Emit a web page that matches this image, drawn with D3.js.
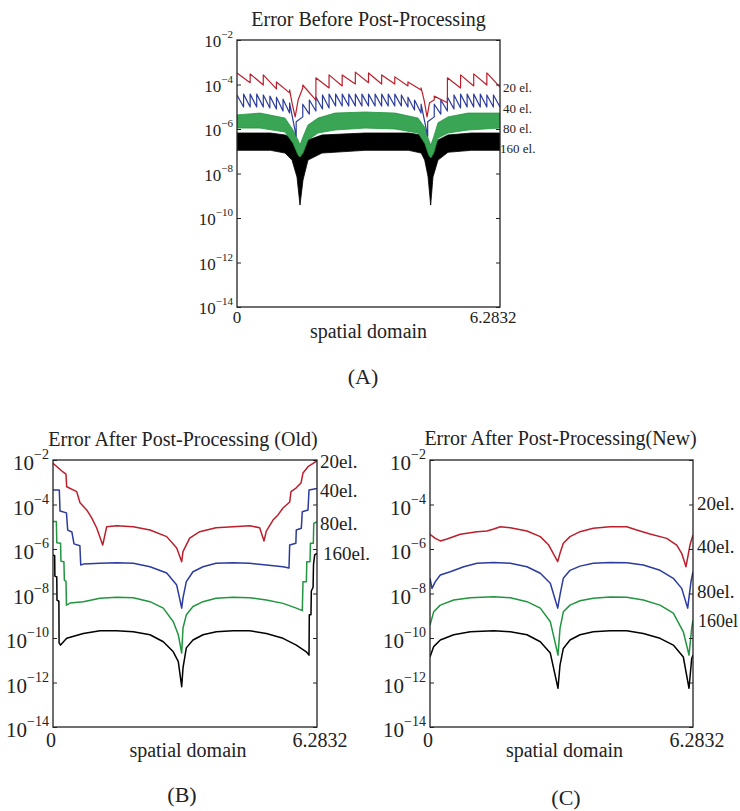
<!DOCTYPE html>
<html>
<head>
<meta charset="utf-8">
<script src="https://cdnjs.cloudflare.com/ajax/libs/d3/7.8.5/d3.min.js"></script>
<style>
  body { margin: 0; background: #fff; }
  svg { display: block; }
  text { font-family: "Liberation Serif", "Times New Roman", serif; fill: #222; }
</style>
</head>
<body>
<svg id="chart" width="740" height="811" font-family="Liberation Serif, serif"></svg>
<script>
const TWO_PI = 6.2832;
const SERIF = "Liberation Serif, Times New Roman, serif";
const decadeTicks = [1e-2, 1e-4, 1e-6, 1e-8, 1e-10, 1e-12, 1e-14];
const decadeExps = ["\u22122", "\u22124", "\u22126", "\u22128", "\u221210", "\u221212", "\u221214"];
const xTickValues = [0, TWO_PI];
const xTickLabels = ["0", "6.2832"];
const seriesNames = ["20", "40", "80", "160"];
const colors = ["#bb1f2c", "#2b3b9e", "#21953f", "#000000"];
const greenBandFill = "#3aa655";

// ---- (A) before post-processing ----
// 20 el. : [x, error] read off the sawtooth (jumps at element edges)
const beforeRed = [
  [0, 3.3e-4], [0.314, 1.2e-4], [0.314, 3.0e-4], [0.628, 9.5e-5], [0.628, 2.7e-4],
  [0.942, 6.3e-5], [0.942, 1.3e-4], [1.257, 4.2e-5], [1.257, 5.7e-5], [1.32, 1.3e-5],
  [1.39, 3.5e-6], [1.46, 2.0e-5], [1.571, 7.0e-5], [1.571, 9.5e-5], [1.885, 2.0e-5],
  [1.885, 2.0e-4], [2.199, 7.0e-5], [2.199, 2.7e-4], [2.513, 8.6e-5], [2.513, 2.7e-4],
  [2.827, 1.05e-4], [2.827, 3.6e-4], [3.142, 1.2e-4], [3.142, 3.3e-4], [3.456, 1.05e-4],
  [3.456, 2.7e-4], [3.770, 1.05e-4], [3.770, 2.2e-4], [4.084, 8.6e-5], [4.084, 1.3e-4],
  [4.398, 5.7e-5], [4.398, 7.0e-5], [4.47, 2.0e-5], [4.54, 3.5e-6], [4.60, 1.5e-5],
  [4.712, 2.0e-5], [4.712, 3.0e-5], [5.027, 1.5e-5], [5.027, 2.0e-4], [5.341, 7.0e-5],
  [5.341, 2.7e-4], [5.655, 8.6e-5], [5.655, 3.0e-4], [5.969, 9.5e-5], [5.969, 3.3e-4],
  [6.2832, 7.7e-5]
];
// 40 el. : value at start (peak) and end (trough) of every element
const blue40Peak = [
  3.4e-5, 3.7e-5, 3.7e-5, 3.7e-5, 3.4e-5, 3.0e-5, 2.7e-5, 2.2e-5, 1.5e-5, 2.1e-6,
  1.3e-5, 2.0e-5, 2.7e-5, 3.4e-5, 3.7e-5, 3.7e-5, 3.7e-5, 3.7e-5, 3.7e-5, 3.7e-5,
  3.7e-5, 3.7e-5, 3.7e-5, 3.7e-5, 3.7e-5, 3.4e-5, 2.7e-5, 2.0e-5, 1.3e-5, 2.1e-6,
  1.3e-5, 2.0e-5, 2.7e-5, 3.4e-5, 3.7e-5, 3.7e-5, 3.7e-5, 3.7e-5, 3.4e-5, 3.4e-5
];
const blue40Trough = [
  9.7e-6, 9.7e-6, 9.7e-6, 9.7e-6, 8.8e-6, 7.9e-6, 6.4e-6, 5.2e-6, 4.8e-7, 3.5e-6,
  4.7e-6, 6.4e-6, 7.9e-6, 8.8e-6, 1.08e-5, 1.08e-5, 1.08e-5, 1.08e-5, 1.08e-5, 1.08e-5,
  1.08e-5, 1.08e-5, 1.08e-5, 1.08e-5, 1.08e-5, 9.7e-6, 7.1e-6, 5.2e-6, 4.8e-7, 3.5e-6,
  4.7e-6, 6.4e-6, 7.9e-6, 8.8e-6, 9.7e-6, 9.7e-6, 9.7e-6, 9.7e-6, 9.7e-6, 9.7e-6
];
// 80 el. and 160 el. oscillate so fast they read as bands: upper / lower envelope
const green80X  = [0, 0.55, 1.147, 1.338, 1.457, 1.505, 1.577, 1.696, 1.935, 2.341, 3.058, 3.775, 4.324, 4.484, 4.58, 4.63, 4.70, 4.802, 5.041, 5.519, 6.2832];
const green80Hi = [4.3e-6, 5.2e-6, 3.1e-6, 9.0e-7, 3.2e-7, 1.9e-7, 4.4e-7, 1.5e-6, 3.1e-6, 5.2e-6, 5.8e-6, 5.2e-6, 3.1e-6, 1.2e-6, 3.2e-7, 1.9e-7, 4.4e-7, 1.9e-6, 3.5e-6, 5.2e-6, 5.2e-6];
const green80Lo = [1.1e-6, 1.1e-6, 7.3e-7, 2.3e-7, 6.8e-8, 5.5e-8, 8.3e-8, 3.2e-7, 6.6e-7, 9.0e-7, 1.1e-6, 1.0e-6, 6.6e-7, 2.3e-7, 6.8e-8, 5.0e-8, 8.3e-8, 3.9e-7, 6.6e-7, 9.0e-7, 1.1e-6];
const black160X  = [0, 0.8, 1.147, 1.314, 1.433, 1.505, 1.577, 1.696, 2.03, 3.06, 4.1, 4.40, 4.484, 4.563, 4.627, 4.682, 4.802, 5.041, 5.6, 6.2832];
const black160Hi = [6.6e-7, 6.6e-7, 5.4e-7, 3.9e-7, 1.6e-7, 5.5e-8, 1.1e-7, 3.2e-7, 5.4e-7, 6.6e-7, 6.6e-7, 5.4e-7, 3.2e-7, 1.6e-7, 5.5e-8, 1.4e-7, 3.2e-7, 5.4e-7, 6.6e-7, 6.6e-7];
const black160Lo = [1.1e-7, 1.1e-7, 8.3e-8, 4.0e-8, 7.0e-9, 3.8e-10, 5.1e-9, 4.0e-8, 8.3e-8, 1.1e-7, 1.1e-7, 8.3e-8, 4.0e-8, 7.5e-9, 3.8e-10, 7.0e-9, 4.0e-8, 9.0e-8, 1.1e-7, 1.1e-7];

// ---- (B) after post-processing, old ----
const oldRed = [
  [0, 7.1e-3], [0.238, 2.9e-3], [0.309, 2.3e-3], [0.326, 6.3e-4], [0.564, 3.8e-4], [0.643, 1.2e-4],
  [0.802, 5.7e-5], [0.921, 2.5e-5], [1.040, 8.8e-6], [1.183, 1.5e-6], [1.278, 1.0e-5], [1.516, 1.1e-5],
  [1.911, 1.0e-5], [2.309, 7.1e-6], [2.706, 3.6e-6], [2.944, 1.1e-6], [3.063, 2.7e-7], [3.094, 7.6e-7],
  [3.253, 3.1e-6], [3.491, 6.0e-6], [3.879, 9.1e-6], [4.284, 1.0e-5], [4.681, 1.1e-5], [4.919, 9.1e-6],
  [5.022, 2.3e-6], [5.077, 6.4e-6], [5.236, 2.0e-5], [5.355, 3.4e-5], [5.474, 7.0e-5], [5.634, 1.3e-4],
  [5.664, 3.8e-4], [5.783, 5.5e-4], [5.902, 9.2e-4], [5.950, 2.6e-3], [6.069, 5.0e-3], [6.228, 7.9e-3],
  [6.2832, 9.0e-3]
];
const oldBlue = [
  [0, 4.5e-4], [0.15, 4.5e-4], [0.167, 5.1e-5], [0.32, 4.2e-5], [0.35, 7.1e-6], [0.45, 5.8e-6],
  [0.5, 1.7e-6], [0.64, 1.4e-6], [0.66, 1.9e-7], [0.721, 2.1e-7], [1.119, 2.3e-7], [1.516, 2.4e-7],
  [1.911, 2.3e-7], [2.309, 1.6e-7], [2.706, 8.3e-8], [2.944, 2.4e-8], [3.063, 2.2e-9], [3.094, 6.3e-9],
  [3.173, 3.4e-8], [3.332, 9.5e-8], [3.570, 1.6e-7], [3.879, 2.3e-7], [4.284, 2.4e-7], [4.681, 2.3e-7],
  [5.077, 1.9e-7], [5.474, 1.6e-7], [5.617, 1.4e-7], [5.633, 1.5e-6], [5.78, 1.8e-6], [5.79, 7.1e-6],
  [5.91, 8.5e-6], [5.933, 4.7e-5], [6.069, 5.7e-5], [6.093, 4.5e-4], [6.2832, 5.3e-4]
];
const oldGreen = [
  [0, 1.7e-5], [0.08, 1.7e-5], [0.09, 1.9e-6], [0.18, 1.8e-6], [0.19, 2.8e-7], [0.26, 2.7e-7],
  [0.27, 4.0e-8], [0.31, 3.5e-8], [0.32, 3.0e-9], [0.405, 3.7e-9], [0.721, 4.3e-9], [1.119, 6.1e-9],
  [1.516, 6.7e-9], [1.911, 6.5e-9], [2.309, 4.3e-9], [2.625, 2.2e-9], [2.863, 5.4e-10], [2.982, 1.4e-10],
  [3.063, 2.1e-11], [3.094, 2.8e-10], [3.173, 1.1e-9], [3.332, 2.6e-9], [3.570, 4.3e-9], [3.879, 6.1e-9],
  [4.284, 6.7e-9], [4.681, 6.5e-9], [5.077, 5.1e-9], [5.474, 3.6e-9], [5.791, 2.2e-9], [5.933, 1.7e-9],
  [5.95, 3.4e-8], [6.03, 3.4e-8], [6.04, 2.7e-7], [6.117, 2.7e-7], [6.127, 1.8e-6], [6.196, 1.8e-6],
  [6.206, 1.4e-5], [6.2832, 1.7e-5]
];
const oldBlack = [
  [0, 5.4e-7], [0.04, 5.0e-7], [0.045, 6.0e-8], [0.09, 5.5e-8], [0.095, 5.0e-9], [0.14, 4.5e-9],
  [0.145, 6.0e-11], [0.18, 4.8e-11], [0.326, 9.7e-11], [0.721, 1.6e-10], [1.119, 2.1e-10], [1.516, 2.1e-10],
  [1.911, 1.9e-10], [2.309, 1.4e-10], [2.625, 6.8e-11], [2.863, 2.4e-11], [2.982, 8.6e-12], [3.063, 6.5e-13],
  [3.094, 4.5e-12], [3.173, 3.6e-11], [3.332, 8.1e-11], [3.570, 1.4e-10], [3.887, 1.9e-10], [4.284, 2.1e-10],
  [4.681, 2.1e-10], [5.077, 1.6e-10], [5.474, 9.7e-11], [5.791, 4.8e-11], [6.029, 2.4e-11], [6.093, 1.7e-11],
  [6.10, 1.1e-9], [6.14, 1.1e-9], [6.148, 1.3e-8], [6.19, 1.9e-8], [6.20, 2.0e-7], [6.228, 5.4e-7],
  [6.2832, 6.4e-7]
];

// ---- (C) after post-processing, new ----
const newRed = [
  [0, 4.6e-6], [0.127, 3.0e-6], [0.246, 2.3e-6], [0.406, 2.8e-6], [0.724, 4.6e-6], [1.123, 6.0e-6],
  [1.362, 6.4e-6], [1.522, 7.9e-6], [1.680, 1.0e-5], [1.918, 9.1e-6], [2.317, 6.4e-6], [2.635, 3.6e-6],
  [2.836, 1.5e-6], [3.051, 2.7e-7], [3.106, 6.4e-7], [3.185, 1.8e-6], [3.345, 3.6e-6], [3.584, 6.0e-6],
  [3.901, 8.5e-6], [4.300, 1.0e-5], [4.699, 1.0e-5], [4.938, 7.1e-6], [5.256, 4.7e-6], [5.655, 3.0e-6],
  [5.894, 1.5e-6], [6.013, 6.4e-7], [6.116, 1.6e-7], [6.211, 1.5e-6], [6.2832, 4.3e-6]
];
const newBlue = [
  [0, 4.8e-8], [0.048, 1.7e-8], [0.127, 3.4e-8], [0.246, 6.8e-8], [0.485, 9.5e-8], [0.805, 1.6e-7],
  [1.123, 2.3e-7], [1.522, 2.5e-7], [1.918, 2.3e-7], [2.317, 1.6e-7], [2.635, 8.1e-8], [2.874, 2.9e-8],
  [3.051, 2.2e-9], [3.106, 8.6e-9], [3.185, 4.8e-8], [3.345, 1.1e-7], [3.584, 1.7e-7], [3.901, 2.3e-7],
  [4.300, 2.5e-7], [4.699, 2.4e-7], [5.096, 1.9e-7], [5.495, 1.1e-7], [5.813, 4.8e-8], [6.013, 1.7e-8],
  [6.156, 2.2e-9], [6.235, 3.4e-8], [6.2832, 9.5e-8]
];
const newGreen = [
  [0, 3.8e-10], [0.088, 1.5e-9], [0.246, 3.0e-9], [0.566, 5.1e-9], [0.963, 6.5e-9], [1.522, 7.2e-9],
  [1.918, 6.5e-9], [2.317, 4.3e-9], [2.635, 2.2e-9], [2.874, 5.4e-10], [3.058, 1.7e-11], [3.106, 2.7e-10],
  [3.185, 1.5e-9], [3.345, 3.0e-9], [3.584, 4.7e-9], [3.901, 6.1e-9], [4.300, 7.0e-9], [4.699, 6.8e-9],
  [5.096, 5.1e-9], [5.495, 3.0e-9], [5.813, 1.3e-9], [6.052, 1.9e-10], [6.188, 1.7e-11], [6.252, 2.7e-10],
  [6.2832, 6.4e-10]
];
const newBlack = [
  [0, 1.4e-11], [0.088, 4.1e-11], [0.246, 8.1e-11], [0.566, 1.4e-10], [0.963, 1.9e-10], [1.522, 2.1e-10],
  [1.918, 1.9e-10], [2.317, 1.4e-10], [2.635, 6.8e-11], [2.874, 2.1e-11], [3.058, 5.5e-13], [3.106, 6.1e-12],
  [3.185, 3.4e-11], [3.345, 8.1e-11], [3.584, 1.4e-10], [3.901, 1.9e-10], [4.300, 2.1e-10], [4.699, 2.1e-10],
  [5.096, 1.6e-10], [5.495, 9.7e-11], [5.813, 4.8e-11], [6.052, 1.4e-11], [6.188, 5.5e-13], [6.252, 1.2e-11],
  [6.2832, 1.7e-11]
];

// where the "N el." tags sit, as log10 of the error
const beforeTagExp = [-4.34, -5.28, -6.18, -7.08];
const oldTagExp = [-2.37, -3.65, -5.15, -6.49];
const newTagExp = [-4.25, -6.19, -8.22, -9.49];

// build the 40-element sawtooth from its peaks and troughs
const w40 = TWO_PI / blue40Peak.length;
const beforeBlue = [];
blue40Peak.forEach((p, i) => {
  beforeBlue.push([i * w40, p]);
  beforeBlue.push([(i + 1) * w40, blue40Trough[i]]);
});
const greenBand = green80X.map((x, i) => [x, green80Hi[i], green80Lo[i]]);
const blackBand = black160X.map((x, i) => [x, black160Hi[i], black160Lo[i]]);

const svg = d3.select("#chart");

function label(g, size) {
  return g.append("text")
    .attr("font-family", SERIF)
    .attr("fill", "#222")
    .style("font-size", size + "px");
}

function drawPanel(p) {
  const x = d3.scaleLinear().domain([0, TWO_PI]).range([p.left, p.right]);
  const y = d3.scaleLog().domain([1e-14, 1e-2]).range([p.bottom, p.top]);
  const g = svg.append("g");

  svg.append("clipPath").attr("id", "clip-" + p.key)
    .append("rect")
    .attr("x", p.left).attr("y", p.top - 1)
    .attr("width", p.right - p.left).attr("height", p.bottom - p.top + 2);

  const plot = g.append("g").attr("clip-path", `url(#clip-${p.key})`);

  const area = d3.area().x(d => x(d[0])).y0(d => y(d[2])).y1(d => y(d[1]));
  const line = d3.line().x(d => x(d[0])).y(d => y(d[1]));

  (p.bands || []).forEach(b => {
    plot.append("path").datum(b.data)
      .attr("d", area)
      .attr("fill", b.fill)
      .attr("stroke", b.color)
      .attr("stroke-width", 0.8);
  });
  p.lines.forEach(l => {
    plot.append("path").datum(l.data)
      .attr("d", line)
      .attr("fill", "none")
      .attr("stroke", l.color)
      .attr("stroke-width", l.width)
      .attr("stroke-linejoin", "round");
  });

  // inward ticks on both sides
  const left = g.append("g").attr("transform", `translate(${p.left},0)`)
    .call(d3.axisLeft(y).tickValues(decadeTicks).tickSizeInner(-4).tickSizeOuter(0).tickFormat(""));
  const right = g.append("g").attr("transform", `translate(${p.right},0)`)
    .call(d3.axisRight(y).tickValues(decadeTicks).tickSizeInner(-4).tickSizeOuter(0).tickFormat(""));
  [left, right].forEach(a => {
    a.select(".domain").remove();
    a.selectAll(".tick line").attr("stroke", "#222");
  });

  g.append("rect")
    .attr("x", p.left).attr("y", p.top)
    .attr("width", p.right - p.left).attr("height", p.bottom - p.top)
    .attr("fill", "none").attr("stroke", "#222").attr("stroke-width", 1.3);

  // 10^-k labels
  decadeTicks.forEach((v, i) => {
    const t = label(g, p.tickSize)
      .attr("x", p.left - 4)
      .attr("y", y(v) + p.baseDy)
      .attr("text-anchor", "end");
    t.append("tspan").text("10");
    t.append("tspan").attr("dy", -p.expRise).style("font-size", p.expSize + "px").text(decadeExps[i]);
  });

  // x tick labels
  xTickValues.forEach((v, i) => {
    label(g, p.xTickSize)
      .attr("x", x(v) + p.xLabelDx[i])
      .attr("y", p.bottom + p.xLabelDy)
      .attr("text-anchor", "middle")
      .text(xTickLabels[i]);
  });

  label(g, 20)
    .attr("x", (p.left + p.right) / 2 + p.xTitleDx)
    .attr("y", p.bottom + p.xTitleDy)
    .attr("text-anchor", "middle")
    .text("spatial domain");

  label(g, 20)
    .attr("x", (p.left + p.right) / 2 + p.titleDx)
    .attr("y", p.titleY)
    .attr("text-anchor", "middle")
    .text(p.title);

  p.tagExp.forEach((e, i) => {
    label(g, p.tagSize[i])
      .attr("x", p.right + p.tagDx[i])
      .attr("y", y(Math.pow(10, e)))
      .text(seriesNames[i] + p.tagSuffix[i]);
  });

  label(g, 22)
    .attr("x", p.letterX)
    .attr("y", p.letterY)
    .attr("text-anchor", "middle")
    .text(p.letter);
}

drawPanel({
  key: "a", left: 237, right: 500, top: 40, bottom: 307,
  title: "Error Before Post-Processing", titleY: 26, titleDx: 0,
  bands: [
    { data: blackBand, color: colors[3], fill: colors[3] },
    { data: greenBand, color: colors[2], fill: greenBandFill }
  ],
  lines: [
    { data: beforeBlue, color: colors[1], width: 1.2 },
    { data: beforeRed, color: colors[0], width: 1.2 }
  ],
  tickSize: 17, expSize: 11, baseDy: 7, expRise: 9,
  xTickSize: 17, xLabelDy: 16, xLabelDx: [0, -7],
  xTitleDy: 31, xTitleDx: 0,
  tagExp: beforeTagExp, tagDx: [3, 3, 3, 0], tagSize: [13, 13, 13, 13],
  tagSuffix: [" el.", " el.", " el.", " el."],
  letter: "(A)", letterX: 363, letterY: 384
});

drawPanel({
  key: "b", left: 53, right: 317, top: 460, bottom: 727,
  title: "Error After Post-Processing (Old)", titleY: 446, titleDx: -2,
  lines: [
    { data: oldBlack, color: colors[3], width: 1.5 },
    { data: oldGreen, color: colors[2], width: 1.5 },
    { data: oldBlue, color: colors[1], width: 1.5 },
    { data: oldRed, color: colors[0], width: 1.5 }
  ],
  tickSize: 21, expSize: 14, baseDy: 10, expRise: 11,
  xTickSize: 20, xLabelDy: 20, xLabelDx: [-2, 3],
  xTitleDy: 30, xTitleDx: 3,
  tagExp: oldTagExp, tagDx: [3, 3, 3, 6], tagSize: [19, 19, 19, 19],
  tagSuffix: ["el.", "el.", "el.", "el."],
  letter: "(B)", letterX: 182, letterY: 802
});

drawPanel({
  key: "c", left: 430, right: 693, top: 460, bottom: 727,
  title: "Error After Post-Processing(New)", titleY: 445, titleDx: -1,
  lines: [
    { data: newBlack, color: colors[3], width: 1.5 },
    { data: newGreen, color: colors[2], width: 1.5 },
    { data: newBlue, color: colors[1], width: 1.5 },
    { data: newRed, color: colors[0], width: 1.5 }
  ],
  tickSize: 21, expSize: 14, baseDy: 10, expRise: 11,
  xTickSize: 20, xLabelDy: 20, xLabelDx: [-2, 4],
  xTitleDy: 30, xTitleDx: 3,
  tagExp: newTagExp, tagDx: [4, 4, 4, 5], tagSize: [19, 19, 19, 18],
  tagSuffix: ["el.", "el.", "el.", "el"],
  letter: "(C)", letterX: 566, letterY: 805
});
</script>
</body>
</html>
